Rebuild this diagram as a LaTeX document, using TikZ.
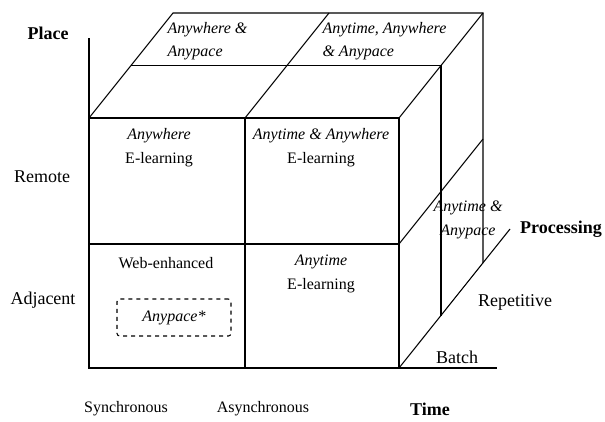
\documentclass[tikz,border=0pt]{standalone}
\usepackage{fontspec}
\setmainfont{Liberation Serif}

\begin{document}
\begin{tikzpicture}[x=0.75pt, y=-0.75pt, line width=0.8pt]
  \tikzstyle{cellule}=[align=center, inner sep=0, font=\fontsize{12}{18}\selectfont];
  \tikzstyle{dessus}=[align=left, anchor=west, inner sep=0, font=\fontsize{12}{17.5}\selectfont\itshape];
  \tikzstyle{axe}=[inner sep=0, font=\fontsize{13.5}{16}\selectfont\bfseries];
  \tikzstyle{niveau}=[inner sep=0, font=\fontsize{13.5}{16}\selectfont];
  \tikzstyle{temps}=[inner sep=0, font=\fontsize{12}{14}\selectfont];

  \useasboundingbox (0,0) rectangle (605,421);

  % face avant
  \coordinate (A) at (89,118);
  \coordinate (B) at (245,118);
  \coordinate (C) at (399,118);
  \coordinate (D) at (89,244);
  \coordinate (E) at (399,244);
  \coordinate (F) at (89,368);
  \coordinate (G) at (245,368);
  \coordinate (H) at (399,368);
  % profondeur
  \coordinate (A1) at (131,65.5);
  \coordinate (A2) at (173,13);
  \coordinate (B2) at (329,13);
  \coordinate (C1) at (441,65.5);
  \coordinate (C2) at (483,13);
  \coordinate (E2) at (483,139);
  \coordinate (H1) at (441,315.5);
  \coordinate (H2) at (483,263);
  % axes
  \coordinate (P) at (89,38);
  \coordinate (T) at (497,368);
  \coordinate (Q) at (510,229);

  \draw (P) -- (F) -- (T);
  \draw (A) -- (C) -- (H);
  \draw (D) -- (E);
  \draw (B) -- (G);
  \draw (A) -- (A2) -- (C2) -- (H2);
  \draw (A1) -- (C1) -- (H1);
  \draw (B) -- (B2);
  \draw (C) -- (C2);
  \draw (E) -- (E2);
  \draw (H) -- (Q);
  \draw[densely dotted, line width=1.1pt] (D) rectangle (G);

  \node[axe] (place) at (48,33) {Place};
  \node[niveau] (remote) at (42,177) {Remote};
  \node[niveau] (adjacent) at (43,300) {Adjacent};
  \node[temps] (sync) at (126,409) {Synchronous};
  \node[temps] (async) at (263,409) {Asynchronous};
  \node[axe] (time) at (430,409) {Time};
  \node[axe] (processing) at (561,229) {Processing};
  \node[niveau] (repetitive) at (515,302) {Repetitive};
  \node[niveau] (batch) at (457,357) {Batch};

  \node[dessus] (ap) at (167,41.5) {Anywhere \&\\Anypace};
  \node[dessus] (tap) at (322,41.5) {Anytime, Anywhere\\\& Anypace};
  \node[cellule] (aw) at (159,148) {\textit{Anywhere}\\E-learning};
  \node[cellule] (taw) at (321,148) {\textit{Anytime \& Anywhere}\\E-learning};
  \node[cellule] (web) at (166,263) {Web-enhanced};
  \node[cellule, draw, dashed, rounded corners=2pt, minimum width=85.5pt, minimum height=27.75pt] (pace) at (174,317.5) {\textit{Anypace*}};
  \node[cellule] (at) at (321,273.5) {\textit{Anytime}\\E-learning};
  \node[cellule, font=\fontsize{12}{18}\selectfont\itshape] (tp) at (468,220) {Anytime \&\\Anypace};
\end{tikzpicture}
\end{document}
